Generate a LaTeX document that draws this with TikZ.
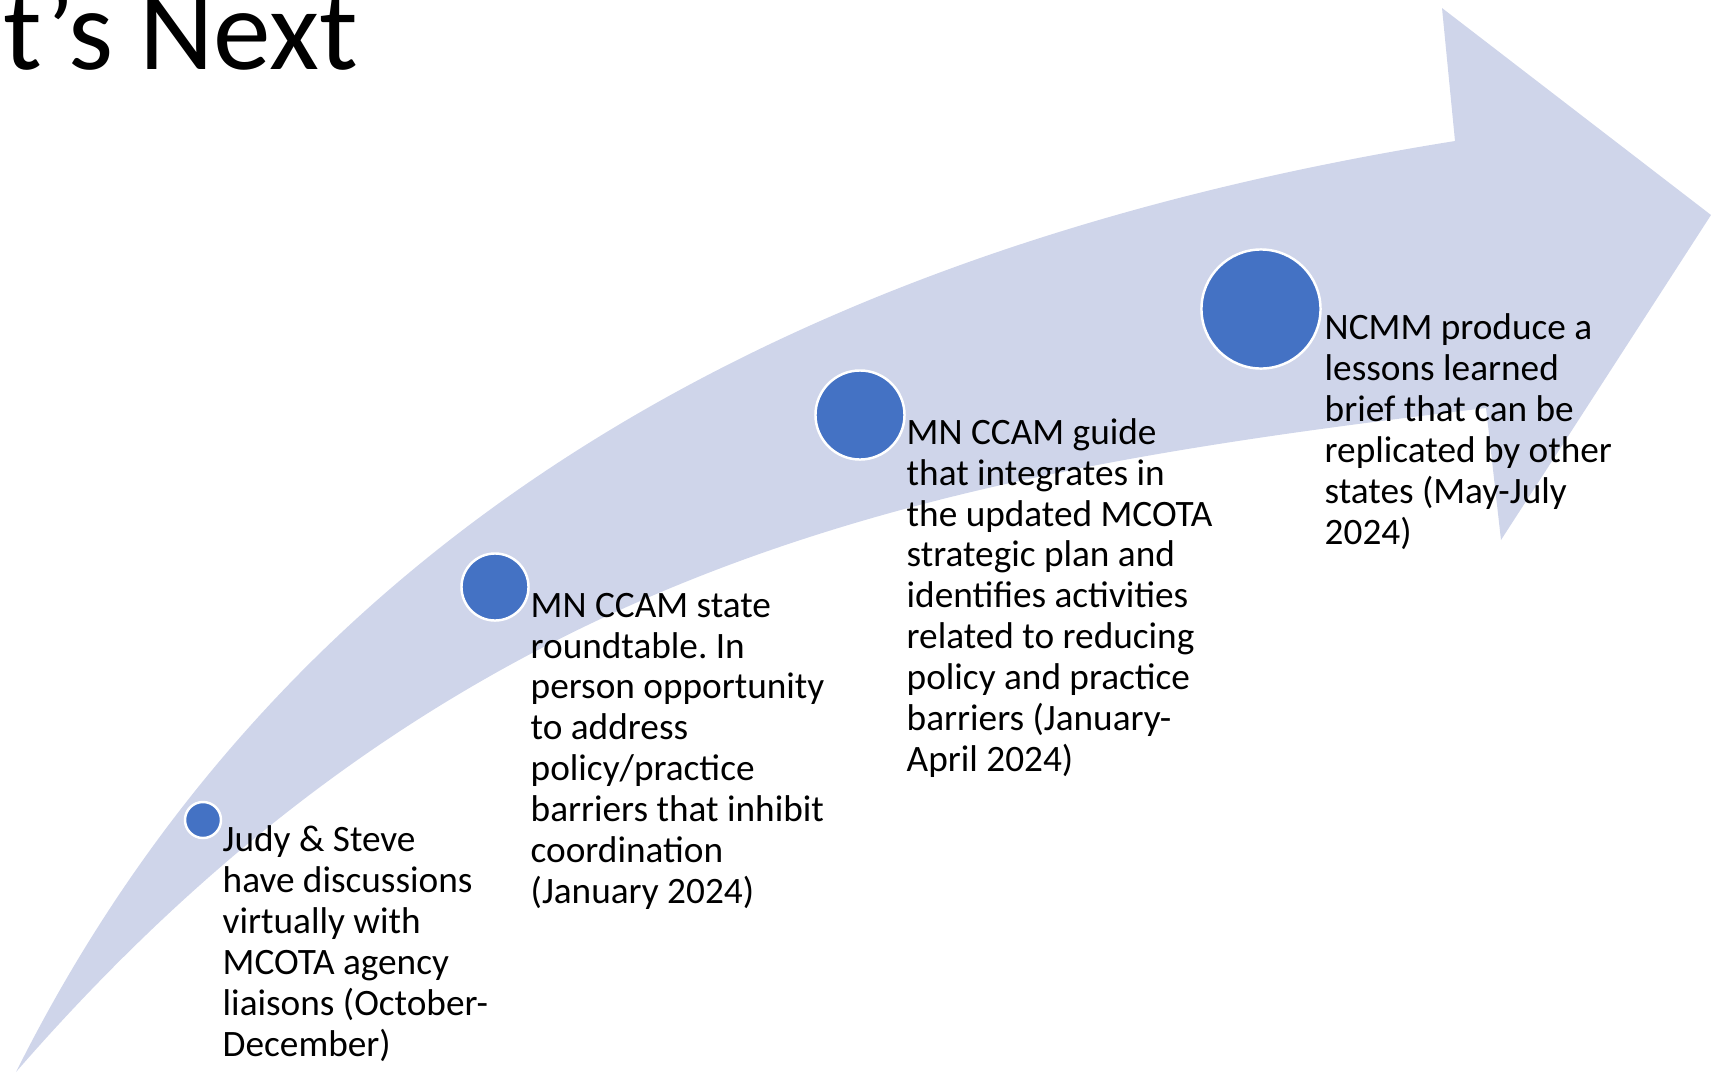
\documentclass[tikz,border=0pt]{standalone}
\usepackage[usenames,dvipsnames]{xcolor}
\usepackage{fontspec}
\setmainfont{Carlito}
\usepackage{tikz}
\definecolor{bandblue}{RGB}{207,213,234}
\definecolor{dotblue}{RGB}{68,114,196}
\frenchspacing

\begin{document}
\begin{tikzpicture}[x=0.01cm,y=-0.01cm,
  dot/.style={circle,fill=dotblue,draw=white,line width=0.7pt,inner sep=0pt},
  steptext/.style={anchor=base west,align=left,inner sep=0pt,font=\fontsize{10.6pt}{11.61pt}\selectfont}]
 \useasboundingbox (0,0) rectangle (1711,1072);
 % the curved arrow
 \fill[bandblue] (16,1072) .. controls (291,522) and (805,245) .. (1455,141)
   -- (1442,8) -- (1711,215) -- (1501,540) -- (1486,408)
   .. controls (936,474) and (466,555) .. (16,1072) -- cycle;

 \draw (3,69) node[anchor=base west,inner sep=0pt,font=\fontsize{32.8pt}{38pt}\selectfont] (title) {t’s Next};

 % steps
 \draw (203,820) node[dot,minimum size=0.36cm] (d1) {};
 \draw (495,587) node[dot,minimum size=0.67cm] (d2) {};
 \draw (860,415) node[dot,minimum size=0.89cm] (d3) {};
 \draw (1261,309) node[dot,minimum size=1.19cm] (d4) {};

 % base anchor sits on the last line
 \draw (222,1056) node[steptext] (t1) {Judy \& Steve\\have discussions\\virtually with\\MCOTA agency\\liaisons (October-\\December)};
 \draw (530,903) node[steptext] (t2) {MN CCAM state\\roundtable. In\\person opportunity\\to address\\policy/practice\\barriers that inhibit\\coordination\\(January 2024)};
 \draw (906,771) node[steptext] (t3) {MN CCAM guide\\that integrates in\\the updated MCOTA\\strategic plan and\\identifies activities\\related to reducing\\policy and practice\\barriers (January-\\April 2024)};
 \draw (1324,544) node[steptext] (t4) {NCMM produce a\\lessons learned\\brief that can be\\replicated by other\\states (May-July\\2024)};
\end{tikzpicture}
\end{document}
